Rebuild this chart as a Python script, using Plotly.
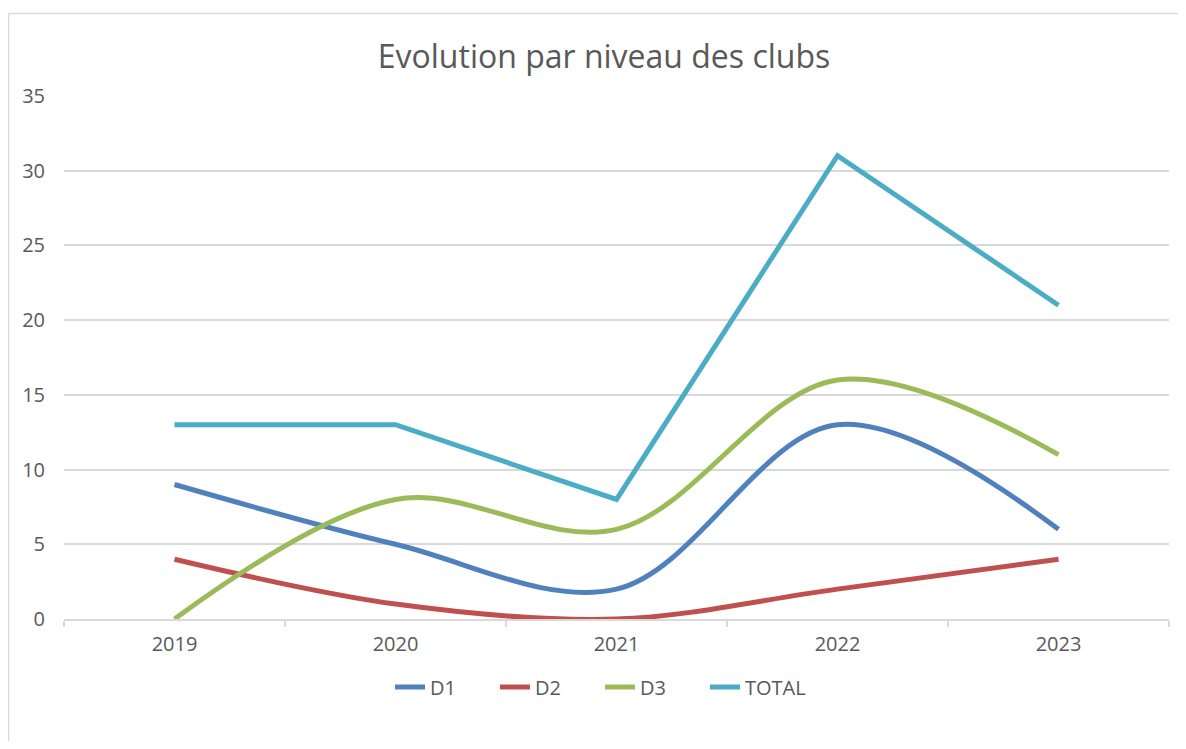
import plotly.graph_objects as go

years = ["2019", "2020", "2021", "2022", "2023"]
d1 = [9, 5, 2, 13, 6]
d2 = [4, 1, 0, 2, 4]
d3 = [0, 8, 6, 16, 11]
total = [13, 13, 8, 31, 21]

series = [
    ("D1", d1, "#4F81BD", "spline"),
    ("D2", d2, "#C0504D", "spline"),
    ("D3", d3, "#9BBB59", "spline"),
    ("TOTAL", total, "#4BACC6", "linear"),
]

fig = go.Figure()
for name, vals, color, shape in series:
    fig.add_trace(go.Scatter(
        x=years, y=vals, name=name, mode="lines",
        line=dict(color=color, width=5, shape=shape, smoothing=1),
    ))

OFF = 8  # page body margin
W, H = 1186 - OFF, 749 - 2 * OFF
# plot area in page pixels: left 64, right 1169, top 96, bottom 619
L = 64 - OFF
R = W - (1169 - OFF)
T = 96 - OFF
B = H - (619 - OFF)
pw, ph = W - L - R, H - T - B

def px2x(px):
    return (px - OFF - L) / pw

def py2y(py):
    return (H - B - (py - OFF)) / ph

border = dict(color="#D9D9D9", width=1.5)
fig.add_shape(type="line", xref="paper", yref="paper",
              x0=px2x(8.5), x1=px2x(1300), y0=py2y(13.5), y1=py2y(13.5), line=border, layer="below")
fig.add_shape(type="line", xref="paper", yref="paper",
              x0=px2x(8.5), x1=px2x(8.5), y0=py2y(13.5), y1=py2y(800), line=border, layer="below")

font_fam = "Open Sans, Noto Sans, sans-serif"
fig.update_layout(
    width=W, height=H,
    margin=dict(l=L, r=R, t=T, b=B),
    paper_bgcolor="white", plot_bgcolor="white",
    font=dict(family=font_fam, color="#595959", size=20),
    title=dict(text="Evolution par niveau des clubs", x=(604 - OFF) / W, xanchor="center",
               y=1 - (57 - OFF) / H, yanchor="middle",
               font=dict(size=32, color="#595959", family=font_fam)),
    showlegend=True,
    legend=dict(orientation="h", x=px2x(600), xanchor="center", y=py2y(687), yanchor="middle",
                font=dict(size=20, color="#595959"), entrywidth=60, entrywidthmode="pixels",
                bgcolor="rgba(0,0,0,0)"),
    xaxis=dict(type="category", range=[-0.5, 4.5], showgrid=False,
               showline=True, linecolor="#D9D9D9", linewidth=1.5,
               ticks="outside", tickson="boundaries", ticklen=6, tickcolor="#D9D9D9",
               tickwidth=1.5, tickfont=dict(size=20, color="#595959"),
               ticklabelstandoff=6),
    yaxis=dict(range=[0, 35], dtick=5, showgrid=True, gridcolor="#D9D9D9", gridwidth=1.5,
               zeroline=False, showline=False, ticks="",
               tickfont=dict(size=20, color="#595959"), ticklabelstandoff=18),
)

fig.write_html("out.html")
